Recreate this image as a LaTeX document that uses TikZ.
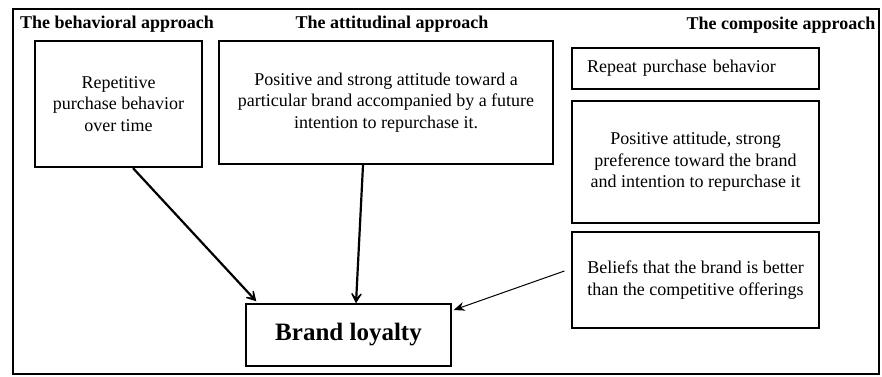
\documentclass[tikz,border=0pt]{standalone}
\usepackage{fontspec}
\setmainfont{Liberation Serif}
\usetikzlibrary{arrows.meta}
\begin{document}
\begin{tikzpicture}[x=1pt,y=-1pt,
  txt/.style={font=\fontsize{18}{21.5}\selectfont, align=center, inner sep=0pt},
  title/.style={font=\fontsize{18}{20}\selectfont\bfseries, inner sep=0pt},
  bigbox/.style={draw, line width=2.2pt, txt},
  smallbox/.style={draw, line width=1.2pt, txt},
  thickarrow/.style={line width=2.2pt, -{Stealth[length=15pt,width=17pt,inset=10pt]}},
  thinarrow/.style={line width=1pt, -{Stealth[length=11pt,width=9pt]}}
]
\useasboundingbox (0,0) rectangle (882,376);
\draw[line width=2.6pt] (13,9) rectangle (879,374);

\node[title] (t1) at (117,24) {The behavioral approach};
\node[title] (t2) at (392,24) {The attitudinal approach};
\node[title] (t3) at (781,25) {The composite approach};

\node[bigbox, minimum width=167pt, minimum height=126pt] (beh) at (118.5,104)
  {Repetitive\\purchase behavior\\over time};
\node[bigbox, minimum width=334pt, minimum height=123pt] (att) at (386,102.5)
  {Positive and strong attitude toward a\\particular brand accompanied by a future\\intention to repurchase it.};

\node[smallbox, minimum width=247pt, minimum height=41pt, text width=217pt, align=left] (rep) at (695.5,68.5)
  {Repeat purchase behavior};
\node[smallbox, minimum width=247pt, minimum height=122pt] (pos) at (695.5,162)
  {Positive attitude, strong\\preference toward the brand\\and intention to repurchase it};
\node[smallbox, minimum width=247pt, minimum height=96pt] (bel) at (695.5,280)
  {Beliefs that the brand is better\\than the competitive offerings};

\node[draw, line width=1.4pt, minimum width=205pt, minimum height=62pt, inner sep=0pt,
  font=\fontsize{25}{28}\selectfont\bfseries] (bl) at (348.5,335) {Brand loyalty};

\draw[thickarrow] ([xshift=14.5pt]beh.south) -- ([xshift=11pt,yshift=2pt]bl.north west);
\draw[thickarrow] ([xshift=-23pt]att.south) -- ([xshift=7.5pt]bl.north);
\draw[thinarrow] ([xshift=-7pt,yshift=9pt]bel.west) -- ([xshift=2pt,yshift=25pt]bl.east);
\end{tikzpicture}
\end{document}
